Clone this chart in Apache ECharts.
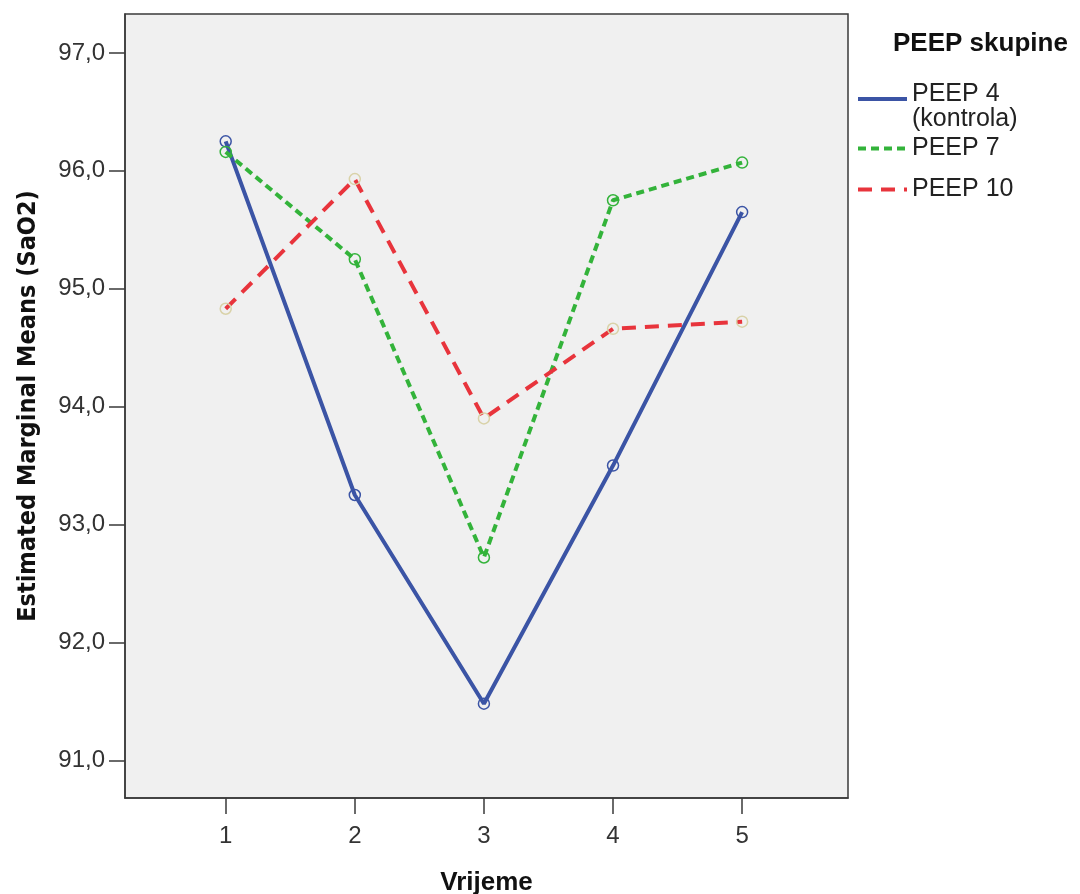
<!DOCTYPE html>
<html><head><meta charset="utf-8">
<script src="https://cdn.jsdelivr.net/npm/echarts@6/dist/echarts.min.js"></script>
<style>html,body{margin:0;padding:0;background:#fff}#c{width:1080px;height:894px}</style>
</head><body><div id="c"></div>
<script>
const categories = [1, 2, 3, 4, 5];
const yTicks = [91, 92, 93, 94, 95, 96, 97];
const seriesNames = ['PEEP 4 (kontrola)', 'PEEP 7', 'PEEP 10'];
const peep4 = [96.25, 93.25, 91.48, 93.50, 95.65];
const peep7 = [96.16, 95.25, 92.72, 95.75, 96.07];
const peep10 = [94.83, 95.93, 93.90, 94.66, 94.72];

const font = 'Liberation Sans, Arial, sans-serif';
const pair = arr => categories.map((c, i) => [c, arr[i]]);
const mk = (name, data, color, type, symColor) => ({
  name, type: 'line', data: pair(data), symbol: 'circle', symbolSize: 11,
  showSymbol: true,
  lineStyle: { color, width: 4, type },
  itemStyle: { color: 'rgba(0,0,0,0)', borderColor: symColor, borderWidth: 1.5 },
  emphasis: { disabled: true }, animation: false, z: 3
});
const legendBase = {
  orient: 'vertical', left: 856, padding: 0, itemWidth: 49, itemHeight: 14,
  itemStyle: { opacity: 0, borderWidth: 0 },
  lineStyle: { width: 4 },
  selectedMode: false
};
const chart = echarts.init(document.getElementById('c'));
chart.setOption({
  backgroundColor: '#fff',
  animation: false,
  grid: { left: 125, top: 14, right: 232, bottom: 96, outerBoundsMode: 'none', show: true, backgroundColor: '#f0f0f0', borderColor: '#3a3a3a', borderWidth: 1.5 },
  xAxis: {
    type: 'value', min: 0.22, max: 5.82,
    name: 'Vrijeme', nameLocation: 'middle', nameGap: 72,
    nameTextStyle: { fontFamily: font, fontWeight: 'bold', fontSize: 26, color: '#111' },
    axisLine: { show: true, lineStyle: { color: '#3a3a3a', width: 1.5 } },
    axisTick: { show: true, length: 16, lineStyle: { color: '#3a3a3a', width: 1.5 }, customValues: categories },
    axisLabel: { customValues: categories, margin: 26, fontFamily: font, fontSize: 24, color: '#333', formatter: v => String(v) },
    splitLine: { show: false }
  },
  yAxis: {
    type: 'value', min: 90.68, max: 97.33,
    name: 'Estimated Marginal Means (SaO2)', nameLocation: 'middle', nameGap: 84, nameRotate: 90,
    nameTextStyle: { fontFamily: 'DejaVu Sans Condensed, Liberation Sans, sans-serif', fontWeight: 'bold', fontSize: 25, color: '#111' },
    axisLine: { show: true, lineStyle: { color: '#3a3a3a', width: 1.5 } },
    axisTick: { show: true, length: 16, lineStyle: { color: '#3a3a3a', width: 1.5 }, customValues: yTicks },
    axisLabel: { customValues: yTicks, margin: 20, fontFamily: font, fontSize: 24, color: '#333', formatter: v => v.toFixed(1).replace('.', ',') },
    splitLine: { show: false }
  },
  legend: [
    Object.assign({}, legendBase, {
      top: 69,
      data: [seriesNames[0]],
      formatter: () => '{p| }\n{t|PEEP 4}\n{t|(kontrola)}',
      textStyle: { fontFamily: font, fontSize: 25, color: '#222', rich: {
        p: { fontSize: 10, lineHeight: 15 },
        t: { fontFamily: font, fontSize: 25, color: '#222', lineHeight: 25 }
      } }
    }),
    Object.assign({}, legendBase, {
      top: 136, itemGap: 16,
      data: [seriesNames[1], seriesNames[2]],
      textStyle: { fontFamily: font, fontSize: 25, color: '#222', lineHeight: 25 }
    })
  ],
  graphic: [{
    type: 'text', left: 893, top: 31,
    style: { text: 'PEEP skupine', font: 'bold 26px ' + font, fill: '#111' }
  }],
  series: [
    mk(seriesNames[0], peep4, '#3b54a5', 'solid', '#3b54a5'),
    mk(seriesNames[1], peep7, '#33b33a', [8, 5], '#33b33a'),
    mk(seriesNames[2], peep10, '#e8343c', [14, 9], '#d9d2a8')
  ]
});
</script></body></html>
